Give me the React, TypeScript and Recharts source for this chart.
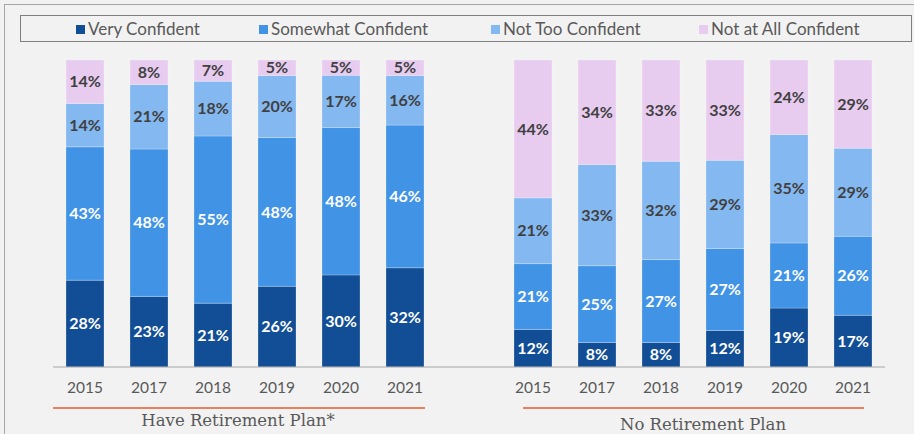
import React from "react";
import { BarChart, Bar, XAxis, YAxis, LabelList } from "recharts";

const years = ["2015", "2017", "2018", "2019", "2020", "2021"];
const groupTitles = ["Have Retirement Plan*", "No Retirement Plan"];

const haveVery = [28, 23, 21, 26, 30, 32];
const haveSomewhat = [43, 48, 55, 48, 48, 46];
const haveNotToo = [14, 21, 18, 20, 17, 16];
const haveNotAll = [14, 8, 7, 5, 5, 5];

const noVery = [12, 8, 8, 12, 19, 17];
const noSomewhat = [21, 25, 27, 27, 21, 26];
const noNotToo = [21, 33, 32, 29, 35, 29];
const noNotAll = [44, 34, 33, 33, 24, 29];

const series = [
  { key: "vc", name: "Very Confident", color: "#124E96", label: "#FFFFFF" },
  { key: "sc", name: "Somewhat Confident", color: "#4193E6", label: "#FFFFFF" },
  { key: "ntc", name: "Not Too Confident", color: "#84B8F0", label: "#404040" },
  { key: "nac", name: "Not at All Confident", color: "#E8CCEF", label: "#404040" },
];

const data = [
  ...years.map((y, i) => ({
    key: "h" + y,
    vc: haveVery[i],
    sc: haveSomewhat[i],
    ntc: haveNotToo[i],
    nac: haveNotAll[i],
  })),
  { key: "gap", vc: 0, sc: 0, ntc: 0, nac: 0 },
  ...years.map((y, i) => ({
    key: "n" + y,
    vc: noVery[i],
    sc: noSomewhat[i],
    ntc: noNotToo[i],
    nac: noNotAll[i],
  })),
];

const legendOffsets = [55, 238, 470, 678];
const FONT = "Lato, 'Open Sans', sans-serif";

const fmtTick = (v: any) => {
  const s = String(v);
  return s === "gap" ? "" : s.slice(1);
};

const fmtLabel = (v: any) => (v == null || v === 0 ? "" : v + "%");

export default function App() {
  return (
    <div
      style={{
        position: "absolute",
        left: 0,
        top: 0,
        width: 914,
        height: 434,
        background: "#F2F2F2",
        overflow: "hidden",
      }}
    >
      <div
        style={{
          position: "absolute",
          left: 4,
          top: 4,
          width: 920,
          height: 440,
          borderTop: "1.5px solid #A6A6A6",
          borderLeft: "1.5px solid #A6A6A6",
        }}
      />
      <div
        style={{
          position: "absolute",
          left: 20,
          top: 15,
          width: 890,
          height: 25,
          border: "1px solid #7F7F7F",
          fontFamily: FONT,
          fontSize: 17,
          color: "#595959",
        }}
      >
        {series.map((s, i) => (
          <div
            key={s.key}
            style={{
              position: "absolute",
              left: legendOffsets[i],
              top: 0,
              height: 25,
              display: "flex",
              alignItems: "center",
              whiteSpace: "nowrap",
            }}
          >
            <span
              style={{
                display: "inline-block",
                width: 9,
                height: 9,
                background: s.color,
                marginRight: 3,
                marginTop: 2,
              }}
            />
            <span>{s.name}</span>
          </div>
        ))}
      </div>
      <div style={{ position: "absolute", left: 0, top: 0 }}>
        <BarChart
          width={914}
          height={434}
          data={data}
          stackOffset="expand"
          margin={{ top: 60, right: 29, bottom: 37, left: 53 }}
          barSize={38}
        >
          <XAxis
            dataKey="key"
            tickFormatter={fmtTick}
            interval={0}
            tickLine={false}
            tickMargin={9}
            axisLine={{ stroke: "#A6A6A6", strokeWidth: 1.2 }}
            tick={{ fill: "#595959", fontSize: 15.5, fontFamily: FONT }}
            height={30}
          />
          <YAxis hide />
          {series.map((s) => (
            <Bar
              key={s.key}
              dataKey={s.key}
              name={s.name}
              stackId="a"
              fill={s.color}
              stroke="rgba(255,255,255,0.3)"
              strokeWidth={0.8}
              isAnimationActive={false}
            >
              <LabelList
                dataKey={s.key}
                position="center"
                fill={s.label}
                style={{ fontFamily: FONT, fontSize: 16, fontWeight: 700 }}
                formatter={fmtLabel}
              />
            </Bar>
          ))}
        </BarChart>
      </div>
      <div
        style={{
          position: "absolute",
          left: 53,
          top: 407,
          width: 372,
          height: 2,
          background: "#E8805E",
        }}
      />
      <div
        style={{
          position: "absolute",
          left: 523,
          top: 407,
          width: 341,
          height: 2,
          background: "#E8805E",
        }}
      />
      <div
        style={{
          position: "absolute",
          left: 238 - 150,
          width: 300,
          top: 411,
          textAlign: "center",
          fontFamily: "'DejaVu Serif', serif",
          fontSize: 16.5,
          color: "#595959",
          whiteSpace: "nowrap",
        }}
      >
        {groupTitles[0]}
      </div>
      <div
        style={{
          position: "absolute",
          left: 703 - 150,
          width: 300,
          top: 415,
          textAlign: "center",
          fontFamily: "'DejaVu Serif', serif",
          fontSize: 16.5,
          color: "#595959",
          whiteSpace: "nowrap",
        }}
      >
        {groupTitles[1]}
      </div>
    </div>
  );
}
